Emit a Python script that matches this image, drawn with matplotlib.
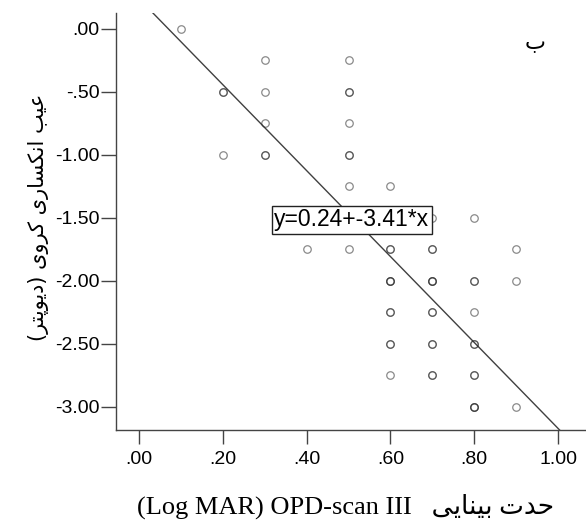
import matplotlib
matplotlib.use("Agg")
import matplotlib.pyplot as plt
from matplotlib.ticker import FixedLocator, FixedFormatter

# Punten uit de figuur (x = LogMAR, y = sferische fout), n = aantal overlappende cases
x = [0.1,
     0.2, 0.2,
     0.3, 0.3, 0.3, 0.3,
     0.4,
     0.5, 0.5, 0.5, 0.5, 0.5, 0.5,
     0.6, 0.6, 0.6, 0.6, 0.6, 0.6,
     0.7, 0.7, 0.7, 0.7, 0.7, 0.7,
     0.8, 0.8, 0.8, 0.8, 0.8, 0.8,
     0.9, 0.9, 0.9]
y = [0.0,
     -0.5, -1.0,
     -0.25, -0.5, -0.75, -1.0,
     -1.75,
     -0.25, -0.5, -0.75, -1.0, -1.25, -1.75,
     -1.25, -1.75, -2.0, -2.25, -2.5, -2.75,
     -1.5, -1.75, -2.0, -2.25, -2.5, -2.75,
     -1.5, -2.0, -2.25, -2.5, -2.75, -3.0,
     -1.75, -2.0, -3.0]
n = [1,
     2, 1,
     1, 1, 1, 2,
     1,
     1, 2, 1, 2, 1, 1,
     1, 2, 3, 2, 2, 1,
     1, 2, 3, 2, 2, 2,
     1, 2, 1, 2, 2, 3,
     1, 1, 1]

intercept = 0.24
slope = -3.41

xticks = [0.0, 0.2, 0.4, 0.6, 0.8, 1.0]
xticklabels = [".00", ".20", ".40", ".60", ".80", "1.00"]
yticks = [0.0, -0.5, -1.0, -1.5, -2.0, -2.5, -3.0]
yticklabels = [".00", "-.50", "-1.00", "-1.50", "-2.00", "-2.50", "-3.00"]

# Arabisch/Perzisch: letters in de juiste vorm zetten (geen shaping in matplotlib)
FORMS = {
    "\u0627": ("\uFE8D", "\uFE8E", None, None),          # alef
    "\u0628": ("\uFE8F", "\uFE90", "\uFE91", "\uFE92"),  # be
    "\u067E": ("\uFB56", "\uFB57", "\uFB58", "\uFB59"),  # pe
    "\u062A": ("\uFE95", "\uFE96", "\uFE97", "\uFE98"),  # te
    "\u062D": ("\uFEA1", "\uFEA2", "\uFEA3", "\uFEA4"),  # he
    "\u062F": ("\uFEA9", "\uFEAA", None, None),          # dal
    "\u0631": ("\uFEAD", "\uFEAE", None, None),          # re
    "\u0633": ("\uFEB1", "\uFEB2", "\uFEB3", "\uFEB4"),  # sin
    "\u0639": ("\uFEC9", "\uFECA", "\uFECB", "\uFECC"),  # ein
    "\u06A9": ("\uFB8E", "\uFB8F", "\uFB90", "\uFB91"),  # kaf
    "\u0646": ("\uFEE5", "\uFEE6", "\uFEE7", "\uFEE8"),  # nun
    "\u0648": ("\uFEED", "\uFEEE", None, None),          # vav
    "\u06CC": ("\uFBFC", "\uFBFD", "\uFBFE", "\uFBFF"),  # ye
}


def shape(s):
    out = []
    for i, c in enumerate(s):
        if c not in FORMS:
            out.append(c)
            continue
        prev = s[i - 1] if i > 0 else ""
        nxt = s[i + 1] if i + 1 < len(s) else ""
        joins_prev = prev in FORMS and FORMS[prev][2] is not None
        joins_next = nxt in FORMS and FORMS[c][2] is not None
        iso, fin, ini, med = FORMS[c]
        if joins_prev and joins_next:
            out.append(med)
        elif joins_prev:
            out.append(fin)
        elif joins_next:
            out.append(ini)
        else:
            out.append(iso)
    vis = "".join(out)[::-1]
    return vis.translate(str.maketrans("()", ")("))


ylabel = shape("عیب انکساری کروی (دیوپتر)")
xlabel = "(Log MAR) OPD-scan III   " + shape("حدت بینایی")
corner = shape("ب")

plt.rcParams["font.family"] = ["Liberation Sans", "DejaVu Sans"]

fig = plt.figure(figsize=(5.86, 5.24), dpi=100)
ax = fig.add_axes([0.198, 0.1794, 0.802, 0.7958])

for xi, yi, ni in zip(x, y, n):
    for _ in range(ni):
        ax.plot(xi, yi, "o", ms=5.4, mfc="none", mec="#2a2a2a", mew=0.9,
                alpha=0.55, zorder=3)

ax.axline((0, intercept), slope=slope, color="#404040", lw=1, zorder=2)

ax.text(0.508, -1.516, "y=0.24+-3.41*x", ha="center", va="center", fontsize=16.5,
        zorder=5, bbox=dict(boxstyle="square,pad=0.1", fc="white", ec="#222222", lw=1))

ax.text(0.891, 0.928, corner, transform=ax.transAxes, ha="center", va="center",
        fontsize=16, family=["DejaVu Sans"])

ax.set_xlim(-0.0549, 1.0668)
ax.set_ylim(-3.183, 0.127)

ax.xaxis.set_major_locator(FixedLocator(xticks))
ax.xaxis.set_major_formatter(FixedFormatter(xticklabels))
ax.yaxis.set_major_locator(FixedLocator(yticks))
ax.yaxis.set_major_formatter(FixedFormatter(yticklabels))

for side in ["top", "right"]:
    ax.spines[side].set_visible(False)
for side in ["left", "bottom"]:
    ax.spines[side].set_color("#444444")
    ax.spines[side].set_linewidth(1)

ax.tick_params(axis="x", length=10, width=1, color="#444444", pad=5, labelsize=14)
ax.tick_params(axis="y", length=11, width=1, color="#444444", pad=1, labelsize=14)

ax.set_ylabel(ylabel, fontsize=15, family=["DejaVu Sans"], va="center")
ax.yaxis.set_label_coords(-0.166, 0.51)
ax.set_xlabel(xlabel, fontsize=19, family=["Liberation Serif", "DejaVu Sans"], va="center")
ax.xaxis.set_label_coords(0.488, -0.182)

fig.savefig("out.png", dpi=100)
